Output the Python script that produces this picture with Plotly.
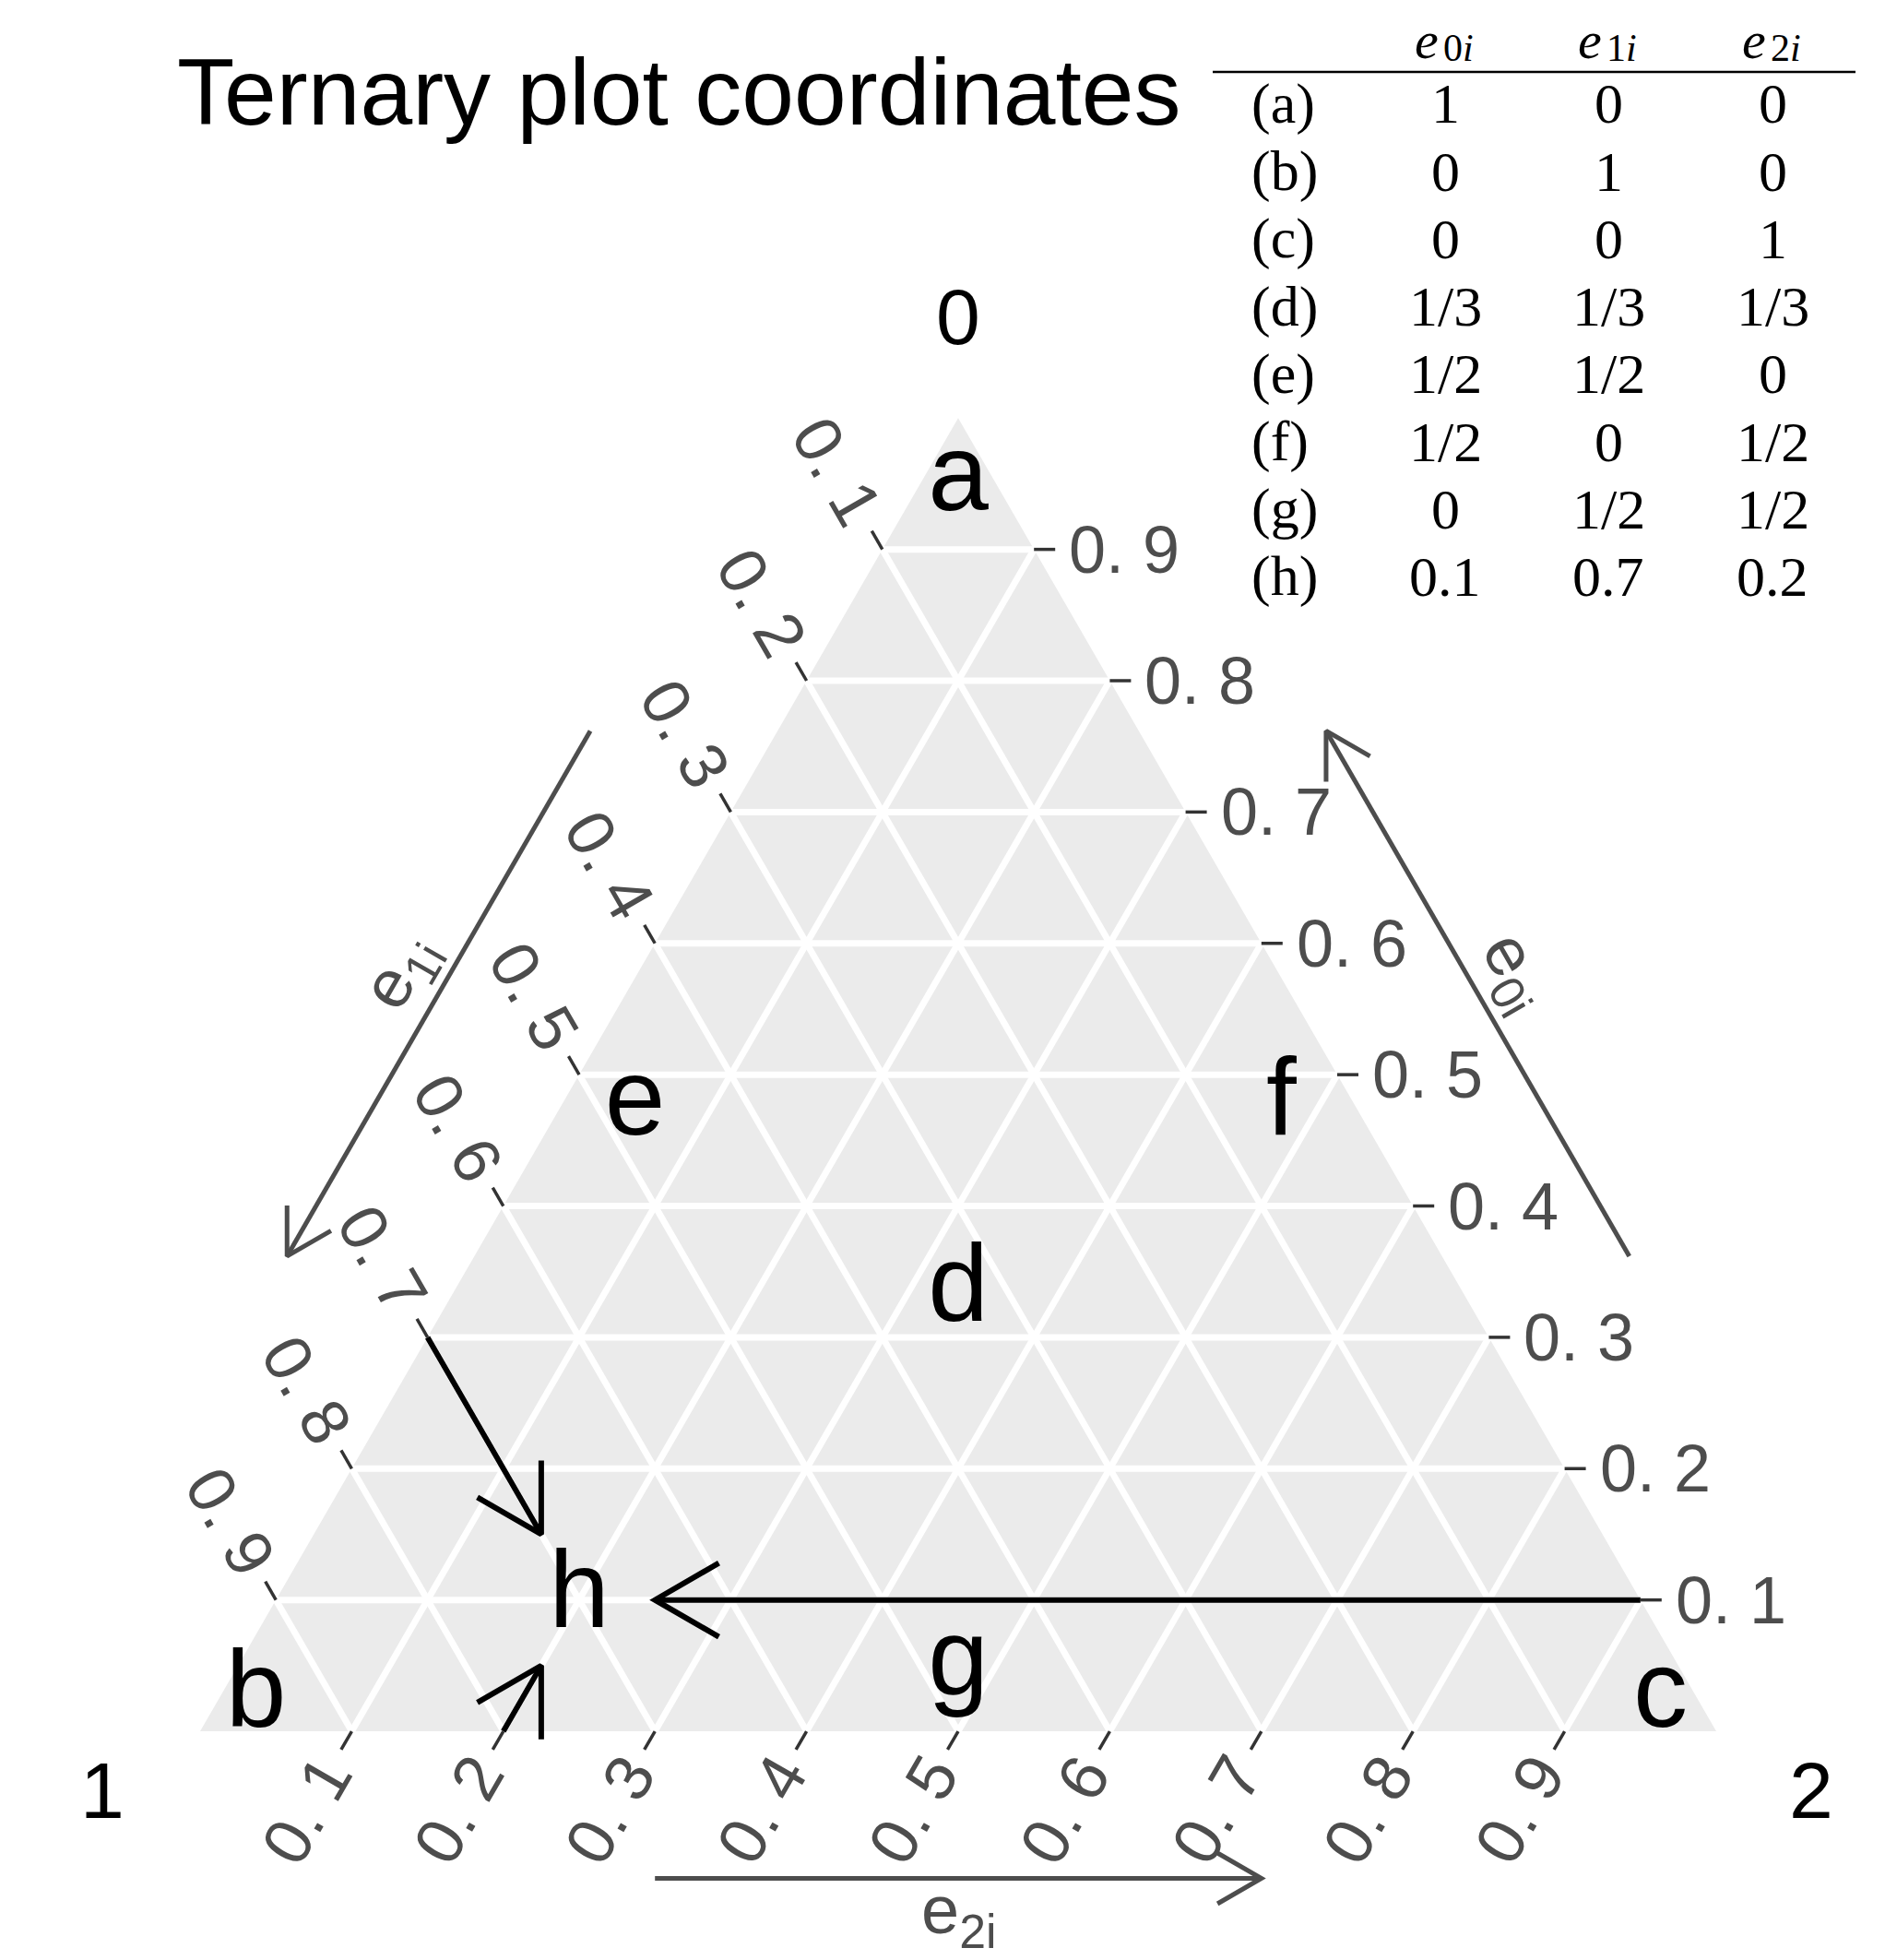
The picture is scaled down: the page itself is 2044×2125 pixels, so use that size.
import numpy as np
import plotly.graph_objects as go

# ---------------- data ----------------
point_labels = ["a", "b", "c", "d", "e", "f", "g", "h"]
e0_values = [1, 0, 0, 1 / 3, 1 / 2, 1 / 2, 0, 0.1]
e1_values = [0, 1, 0, 1 / 3, 1 / 2, 0, 1 / 2, 0.7]
e2_values = [0, 0, 1, 1 / 3, 0, 1 / 2, 1 / 2, 0.2]

table_row_names = ["(a)", "(b)", "(c)", "(d)", "(e)", "(f)", "(g)", "(h)"]
table_e0 = ["1", "0", "0", "1/3", "1/2", "1/2", "0", "0.1"]
table_e1 = ["0", "1", "0", "1/3", "1/2", "0", "1/2", "0.7"]
table_e2 = ["0", "0", "1", "1/3", "0", "1/2", "1/2", "0.2"]
table_header_base = ["<i>e</i>", "<i>e</i>", "<i>e</i>"]
table_header_sub = ["0<i>i</i>", "1<i>i</i>", "2<i>i</i>"]

grid_breaks = [0.1, 0.2, 0.3, 0.4, 0.5, 0.6, 0.7, 0.8, 0.9]
tick_labels = ["0. 1", "0. 2", "0. 3", "0. 4", "0. 5", "0. 6", "0. 7", "0. 8", "0. 9"]
vertex_titles = ["0", "1", "2"]
axis_titles = ["e<sub>0i</sub>", "e<sub>1i</sub>", "e<sub>2i</sub>"]
title_text = "Ternary plot coordinates"

# guide arrows pointing at h: start and end compositions (e0, e1, e2)
guide_start = [[0.3, 0.7, 0.0], [0.1, 0.0, 0.9], [0.0, 0.8, 0.2]]
guide_end = [[0.15, 0.7, 0.15], [0.1, 0.65, 0.25], [0.05, 0.75, 0.2]]
# axis-direction arrows span these axis values
arrow_span = [0.3, 0.7]

# ---------------- geometry / style ----------------
SQ = np.sqrt(3) / 2
FIG_W, FIG_H = 2044, 2125
PAGE_OFF = 8                      # default page margin of the html body
SIDE_PX = 1644
ORIGIN_X, ORIGIN_Y = 217 - PAGE_OFF, 1877 - PAGE_OFF
PX = 1.0 / SIDE_PX
SANS = "Liberation Sans, Arial, Helvetica, sans-serif"
SERIF = "Liberation Serif, Times New Roman, serif"
AXIS_GREY = "#4D4D4D"
TICK_GREY = "#333333"


def paper_x(px):
    return (px - PAGE_OFF) / FIG_W


def paper_y(py):
    return 1 - (py - PAGE_OFF) / FIG_H


def tern_xy(e0, e1, e2):
    s = e0 + e1 + e2
    return (e2 + 0.5 * e0) / s, SQ * e0 / s


def rot(v, deg):
    a = np.radians(deg)
    return (v[0] * np.cos(a) - v[1] * np.sin(a), v[0] * np.sin(a) + v[1] * np.cos(a))


def head_pts(x0, y0, x1, y1, length_px, ang=30):
    d = np.array([x1 - x0, y1 - y0])
    d = d / np.linalg.norm(d)
    back = (-d[0], -d[1])
    b1 = rot(back, ang)
    b2 = rot(back, -ang)
    L = length_px * PX
    return ([x1 + L * b1[0], x1, x1 + L * b2[0]],
            [y1 + L * b1[1], y1, y1 + L * b2[1]])


fig = go.Figure()

# panel background
corners = [(1, 0, 0), (0, 1, 0), (0, 0, 1), (1, 0, 0)]
cx = [tern_xy(*c)[0] for c in corners]
cy = [tern_xy(*c)[1] for c in corners]
fig.add_trace(go.Scatter(x=cx, y=cy, mode="lines", fill="toself",
                         fillcolor="#EBEBEB", line=dict(width=0, color="#EBEBEB"),
                         hoverinfo="skip"))

# grid lines
gx, gy = [], []
for v in grid_breaks:
    segs = [((v, 1 - v, 0), (v, 0, 1 - v)),
            ((1 - v, v, 0), (0, v, 1 - v)),
            ((1 - v, 0, v), (0, 1 - v, v))]
    for p, q in segs:
        x0, y0 = tern_xy(*p)
        x1, y1 = tern_xy(*q)
        gx += [x0, x1, None]
        gy += [y0, y1, None]
fig.add_trace(go.Scatter(x=gx, y=gy, mode="lines", line=dict(color="white", width=7),
                         hoverinfo="skip"))

# ticks and tick labels
axis_specs = [
    (lambda v: (v, 0, 1 - v), (1.0, 0.0), 0),      # e0: right side
    (lambda v: (1 - v, v, 0), (-0.5, SQ), 60),     # e1: left side
    (lambda v: (0, 1 - v, v), (-0.5, -SQ), -60),   # e2: bottom
]
TICK_LEN = 23
LABEL_DIST = 98
annotations = []
tx, ty = [], []
for edge_fn, d, tang in axis_specs:
    for v, lab in zip(grid_breaks, tick_labels):
        ex, ey = tern_xy(*edge_fn(v))
        tx += [ex, ex + d[0] * TICK_LEN * PX, None]
        ty += [ey, ey + d[1] * TICK_LEN * PX, None]
        annotations.append(dict(
            x=ex + d[0] * LABEL_DIST * PX, y=ey + d[1] * LABEL_DIST * PX,
            xref="x", yref="y", text=lab, showarrow=False, textangle=tang,
            xanchor="center", yanchor="middle",
            font=dict(family=SANS, size=72, color=AXIS_GREY)))
fig.add_trace(go.Scatter(x=tx, y=ty, mode="lines", line=dict(color=TICK_GREY, width=3.5),
                         hoverinfo="skip"))

# axis-direction arrows with titles
arrow_specs = [
    (lambda t: (t, 0, 1 - t), (SQ, 0.5), 0.107, 0.135, 60),
    (lambda t: (1 - t, t, 0), (-SQ, 0.5), 0.107, 0.135, -60),
    (lambda t: (0, 1 - t, t), (0.0, -1.0), 0.097, 0.121, 0),
]
for (edge_fn, nrm, off, loff, tang), title in zip(arrow_specs, axis_titles):
    sx, sy = tern_xy(*edge_fn(arrow_span[0]))
    ex, ey = tern_xy(*edge_fn(arrow_span[1]))
    sx, sy = sx + nrm[0] * off, sy + nrm[1] * off
    ex, ey = ex + nrm[0] * off, ey + nrm[1] * off
    fig.add_trace(go.Scatter(x=[sx, ex], y=[sy, ey], mode="lines",
                             line=dict(color=AXIS_GREY, width=5), hoverinfo="skip"))
    hx, hy = head_pts(sx, sy, ex, ey, 55)
    fig.add_trace(go.Scatter(x=hx, y=hy, mode="lines",
                             line=dict(color=AXIS_GREY, width=5), hoverinfo="skip"))
    mx, my = tern_xy(*edge_fn(0.5))
    annotations.append(dict(
        x=mx + nrm[0] * loff, y=my + nrm[1] * loff, xref="x", yref="y",
        text=title, showarrow=False, textangle=tang,
        xanchor="center", yanchor="middle",
        font=dict(family=SANS, size=74, color=AXIS_GREY)))

# guide arrows towards h
for s, e in zip(guide_start, guide_end):
    sx, sy = tern_xy(*s)
    ex, ey = tern_xy(*e)
    fig.add_trace(go.Scatter(x=[sx, ex], y=[sy, ey], mode="lines",
                             line=dict(color="black", width=6), hoverinfo="skip"))
    hx, hy = head_pts(sx, sy, ex, ey, 80)
    fig.add_trace(go.Scatter(x=hx, y=hy, mode="lines",
                             line=dict(color="black", width=6), hoverinfo="skip"))

# vertex titles
vertex_shift = [(0, 110), (-106, -64), (103, -64)]
for c, lab, (dx, dy) in zip(corners[:3], vertex_titles, vertex_shift):
    vx, vy = tern_xy(*c)
    annotations.append(dict(x=vx, y=vy, xref="x", yref="y", text=lab, showarrow=False,
                            xshift=dx, yshift=dy, xanchor="center", yanchor="middle",
                            font=dict(family=SANS, size=86, color="black")))

# point labels (nudged towards the centroid when on the boundary, clipped at the panel)
NUDGE_PX = 70
gcx, gcy = tern_xy(1, 1, 1)
lx, ly = [], []
for a, b, c in zip(e0_values, e1_values, e2_values):
    px_, py_ = tern_xy(a, b, c)
    if min(a, b, c) == 0:
        d = np.array([gcx - px_, gcy - py_])
        d = d / np.linalg.norm(d)
        px_ += d[0] * NUDGE_PX * PX
        py_ += d[1] * NUDGE_PX * PX
    lx.append(px_)
    ly.append(py_)
fig.add_trace(go.Scatter(x=lx, y=ly, mode="text", text=point_labels,
                         textposition="middle center", cliponaxis=True,
                         textfont=dict(family=SANS, size=118, color="black"),
                         xaxis="x2", yaxis="y2", hoverinfo="skip"))

# title
annotations.append(dict(x=paper_x(190), y=paper_y(100), xref="paper", yref="paper",
                        text=title_text, showarrow=False, xanchor="left", yanchor="middle",
                        font=dict(family=SERIF if False else SANS, size=102, color="black")))

# table
col_x = [1567, 1744, 1922]
row_y0, row_dy = 112.5, 73.2
for xc, hb, hs in zip(col_x, table_header_base, table_header_sub):
    annotations.append(dict(x=paper_x(xc - 20), y=paper_y(43), xref="paper", yref="paper",
                            text=hb, showarrow=False, xanchor="center", yanchor="middle",
                            font=dict(family=SERIF, size=58, color="black")))
    annotations.append(dict(x=paper_x(xc + 14), y=paper_y(52), xref="paper", yref="paper",
                            text=hs, showarrow=False, xanchor="center", yanchor="middle",
                            font=dict(family=SERIF, size=42, color="black")))
for i, (rn, v0, v1, v2) in enumerate(zip(table_row_names, table_e0, table_e1, table_e2)):
    yy = paper_y(row_y0 + i * row_dy)
    annotations.append(dict(x=paper_x(1355), y=yy, xref="paper", yref="paper", text=rn,
                            showarrow=False, xanchor="left", yanchor="middle",
                            font=dict(family=SERIF, size=62, color="black")))
    for xc, val in zip(col_x, (v0, v1, v2)):
        annotations.append(dict(x=paper_x(xc), y=yy, xref="paper", yref="paper", text=val,
                                showarrow=False, xanchor="center", yanchor="middle",
                                font=dict(family=SERIF, size=62, color="black")))

shapes = [dict(type="line", xref="paper", yref="paper",
               x0=paper_x(1315), x1=paper_x(2012), y0=paper_y(78), y1=paper_y(78),
               line=dict(color="black", width=2.5))]

x_range = [-ORIGIN_X * PX, (FIG_W - ORIGIN_X) * PX]
fig.update_layout(
    width=FIG_W, height=FIG_H,
    margin=dict(l=0, r=0, t=0, b=0, pad=0),
    paper_bgcolor="white", plot_bgcolor="rgba(0,0,0,0)",
    showlegend=False,
    xaxis=dict(range=x_range, visible=False, domain=[0, 1], fixedrange=True),
    yaxis=dict(range=[-(FIG_H - ORIGIN_Y) * PX, ORIGIN_Y * PX], visible=False,
               domain=[0, 1], fixedrange=True),
    xaxis2=dict(range=x_range, visible=False, domain=[0, 1], anchor="y2", fixedrange=True),
    yaxis2=dict(range=[0, ORIGIN_Y * PX], visible=False,
                domain=[(FIG_H - ORIGIN_Y) / FIG_H, 1], anchor="x2", fixedrange=True),
    annotations=annotations,
    shapes=shapes,
)

fig.write_html("out.html")
